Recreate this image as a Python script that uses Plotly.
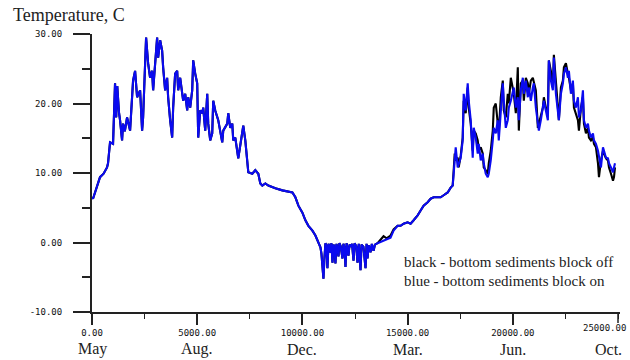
import plotly.graph_objects as go

# ---- data (hours since start, temperature in C) ----
blue_time = [0, 48, 381, 550, 714, 762, 857, 1000, 1048, 1095, 1150, 1200, 1286, 1333, 1429, 1476,
             1560, 1667, 1810, 1952, 2048, 2143, 2286, 2381, 2429, 2524, 2571, 2667, 2762, 2857,
             2905, 3095, 3143, 3238, 3333, 3381, 3476, 3571, 3619, 3714, 3810, 3857, 3952, 4048,
             4095, 4190, 4286, 4333, 4429, 4524, 4571, 4667, 4762, 4810, 4905, 5000, 5048, 5143,
             5238, 5286, 5381, 5476, 5524, 5619, 5714, 5762, 5857, 5952, 6000, 6190, 6238, 6429,
             6476, 6571, 6667, 6714, 6810, 6952, 7048, 7143, 7190, 7286, 7381, 7429, 7619, 7762,
             7905, 8000, 8095, 8238, 8381, 8619, 8714, 9048, 9333, 9524, 9667, 9810, 10000, 10143,
             10286, 10476, 10619, 10762, 10857, 10905, 10952, 11000, 11048, 11095,
             11140, 11190, 11240, 11300, 11340, 11380, 11429, 11480, 11520, 11571, 11620, 11670,
             11714, 11760, 11820, 11905, 11950, 12000, 12048, 12100, 12190, 12240, 12300, 12360,
             12429, 12480, 12560, 12619, 12680, 12762, 12810, 12900, 13000, 13050, 13095, 13150,
             13238, 13300, 13381, 13450, 13571,
             13857, 14190, 14333, 14524, 14667, 14810, 15000, 15143, 15286, 15476, 15619, 15762,
             15952, 16095, 16238, 16571, 16714, 16905, 17048, 17143, 17190, 17238, 17286, 17381,
             17429, 17524, 17619, 17667, 17762, 17857, 17905, 18000, 18095, 18143, 18238, 18333,
             18381, 18476, 18571, 18619, 18714, 18810, 18857, 18952, 19048, 19095, 19190, 19286,
             19333, 19429, 19524, 19571, 19667, 19762, 19810, 19905, 20000, 20048, 20143, 20238,
             20286, 20381, 20476, 20524, 20619, 20714, 20762, 20857, 20952, 21000, 21095, 21190,
             21238, 21333, 21429, 21476, 21571, 21667, 21714, 21810, 21905, 21952, 22048, 22143,
             22190, 22286, 22381, 22429, 22524, 22619, 22667, 22762, 22857, 22905, 23000, 23095,
             23143, 23238, 23333, 23381, 23476, 23571, 23619, 23714, 23810, 23857, 23952, 24048,
             24095, 24190, 24286, 24333, 24429, 24524, 24571, 24667, 24762, 24810, 24857]
blue_temp = [6.5, 6.3, 9.4, 9.9, 10.8, 11.4, 14.4, 14.2, 18.6, 22.9, 18.0, 22.5, 18.6, 17.6, 14.7, 17.1,
             16.0, 18.0, 16.1, 23.3, 24.7, 20.9, 21.9, 16.1, 18.0, 27.6, 29.5, 25.8, 23.7, 24.7,
             21.9, 29.5, 26.6, 29.1, 27.6, 25.2, 21.9, 23.7, 20.9, 17.6, 15.1, 19.4, 24.3, 24.7,
             21.9, 23.7, 20.9, 20.4, 21.4, 19.0, 20.9, 19.4, 21.9, 26.2, 24.3, 22.9, 15.1, 19.0,
             18.6, 19.4, 16.1, 21.4, 17.1, 14.7, 15.7, 20.4, 19.0, 18.0, 17.6, 14.4, 16.1, 17.1,
             18.6, 16.5, 17.1, 14.7, 15.1, 12.1, 14.2, 16.5, 16.8, 14.7, 11.8, 10.1, 9.9, 10.4,
             9.9, 8.5, 8.2, 8.5, 8.2, 7.9, 7.8, 7.5, 7.3, 7.2, 6.5, 5.3, 4.3, 3.2,
             2.4, 1.7, 1.0, 0.0, -0.7, -1.6, -3.6, -5.2, -2.2, -0.1,
             -0.5, -3.7, -0.2, -0.6, -1.5, -0.1, -2.9, -0.3, -0.6, -3.0, -0.2, -0.8,
             -2.0, -0.1, -0.5, -2.3, -0.2, -0.7, -3.5, -0.1, -1.9, -0.3, -0.6, -0.2,
             -2.6, -0.1, -0.5, -2.9, -0.2, -4.0, -0.3, -0.6, -3.7, -0.2, -2.3, -0.4,
             -1.4, -0.2, -1.2, -0.3, -0.1,
             0.3, 0.7, 1.7, 2.4, 2.4, 2.7, 2.9, 2.7, 3.2, 3.9, 4.6, 5.3,
             5.8, 6.3, 6.5, 6.5, 6.8, 7.2, 7.9, 8.2, 9.9, 12.2, 13.7, 10.8,
             11.4, 12.2, 14.7, 21.4, 19.0, 22.9, 20.4, 17.6, 12.2, 16.5, 15.1, 12.8,
             14.2, 11.8, 12.8, 11.4, 9.9, 9.4, 9.9, 11.8, 14.7, 16.5, 15.7, 17.6,
             14.7, 19.4, 22.9, 20.4, 16.5, 17.6, 19.4, 20.4, 21.9, 22.3, 19.4, 20.9,
             17.6, 21.9, 23.7, 21.4, 23.3, 20.9, 22.3, 20.4, 22.3, 22.9, 19.4, 17.6,
             16.1, 17.6, 19.4, 20.4, 19.0, 17.6, 26.2, 23.3, 21.9, 26.6, 21.4, 19.0,
             17.6, 21.4, 22.9, 24.3, 25.2, 23.7, 24.7, 21.4, 23.3, 20.4, 19.4, 20.9,
             18.0, 19.0, 21.9, 17.6, 16.5, 17.1, 16.1, 15.1, 15.7, 14.7, 14.2, 13.2,
             12.2, 10.8, 13.7, 13.2, 12.2, 12.1, 11.4, 10.8, 10.1, 10.8, 11.4]

# black series: identical to blue before spring, then its own values
black_late_time = [13571, 13700, 13857, 14000, 14190, 14333, 14524, 14667, 14810, 15000, 15143, 15286,
                   15476, 15619, 15762, 15952, 16095, 16238, 16571, 16714, 16905, 17048, 17143, 17190,
                   17238, 17286, 17381, 17429, 17524, 17619, 17667, 17762, 17857, 17905, 18000, 18095,
                   18143, 18238, 18333, 18381, 18476, 18571, 18619, 18714, 18810, 18857, 18952, 19048,
                   19095, 19190, 19286, 19333, 19429, 19524, 19571, 19667, 19762, 19810, 19905, 20000,
                   20048, 20143, 20238, 20286, 20381, 20476, 20524, 20619, 20714, 20762, 20857, 20952,
                   21000, 21095, 21190, 21238, 21333, 21429, 21476, 21571, 21667, 21714, 21810, 21905,
                   21952, 22048, 22143, 22190, 22286, 22381, 22429, 22524, 22619, 22667, 22762, 22857,
                   22905, 23000, 23095, 23143, 23238, 23333, 23381, 23476, 23571, 23619, 23714, 23810,
                   23857, 23952, 24048, 24095, 24190, 24286, 24333, 24429, 24524, 24571, 24667, 24762,
                   24810, 24857]
black_late_temp = [-0.1, 0.3, 0.9, 0.6, 1.0, 1.9, 2.4, 2.4, 2.7, 2.9, 2.7, 3.2,
                   3.9, 4.6, 5.3, 5.8, 6.3, 6.5, 6.5, 6.8, 7.2, 7.9, 8.2, 10.4,
                   12.8, 11.8, 12.2, 10.8, 12.5, 15.1, 20.4, 18.6, 22.3, 19.4, 17.1, 13.2,
                   16.1, 15.7, 14.7, 13.2, 13.7, 12.8, 10.8, 10.4, 9.9, 11.4, 13.2, 16.1,
                   19.4, 20.0, 17.1, 15.7, 20.9, 23.3, 19.0, 18.0, 21.4, 20.0, 23.7, 22.3,
                   21.4, 18.6, 25.2, 16.1, 22.9, 23.3, 20.4, 23.7, 22.9, 21.4, 23.3, 23.7,
                   22.9, 21.9, 16.5, 17.1, 18.0, 19.4, 20.9, 19.4, 18.6, 26.2, 24.7, 22.3,
                   27.0, 22.9, 18.6, 17.6, 22.3, 23.3, 25.2, 25.8, 24.3, 23.7, 21.9, 22.9,
                   19.4, 18.6, 17.6, 16.1, 19.4, 20.9, 17.1, 15.7, 16.5, 15.1, 14.7, 15.1,
                   14.2, 13.7, 11.4, 9.4, 11.8, 13.2, 12.8, 12.1, 11.8, 10.8, 9.9, 8.9,
                   9.4, 10.8]

n_shared = blue_time.index(13571)
black_time = blue_time[:n_shared] + black_late_time
black_temp = blue_temp[:n_shared] + black_late_temp

x_ticks = [0, 5000, 10000, 15000, 20000, 25000]
x_tick_labels = ["0.00", "5000.00", "10000.00", "15000.00", "20000.00", "25000.00"]
months = ["May", "Aug.", "Dec.", "Mar.", "Jun.", "Oct."]
month_pos = [0, 5000, 10000, 15000, 20000, 24550]
y_ticks = [-10, 0, 10, 20, 30]
y_tick_labels = ["-10.00", "0.00", "10.00", "20.00", "30.00"]

fig = go.Figure()
fig.add_trace(go.Scatter(x=black_time, y=black_temp, mode="lines",
                         line=dict(color="#000000", width=2.1), showlegend=False))
fig.add_trace(go.Scatter(x=blue_time, y=blue_temp, mode="lines",
                         line=dict(color="#0a0af0", width=2.1), showlegend=False))

tick_font = dict(family="DejaVu Sans Mono", size=9, color="#111")
# the last x tick label sits at the page edge; it is drawn as an annotation below
fig.update_xaxes(range=[0, 25095], showline=True, linecolor="#222", linewidth=2,
                 ticks="outside", ticklen=11, tickwidth=1.5, tickcolor="#222",
                 tickvals=x_ticks[:-1], ticktext=x_tick_labels[:-1], tickfont=tick_font,
                 minor=dict(dtick=2500, tick0=0, ticks="outside", ticklen=5, tickcolor="#222", tickwidth=1),
                 showgrid=False, zeroline=False)
fig.update_yaxes(range=[-10, 30], showline=True, linecolor="#222", linewidth=2,
                 ticks="outside", ticklen=17, tickwidth=2, tickcolor="#222",
                 tickvals=y_ticks, ticktext=y_tick_labels, tickfont=tick_font,
                 ticklabelstandoff=9,
                 minor=dict(dtick=5, tick0=-10, ticks="outside", ticklen=8, tickcolor="#222", tickwidth=1.5),
                 showgrid=False, zeroline=False)

fig.update_layout(
    width=630, height=360,
    margin=dict(l=92, r=10, t=34, b=48),
    paper_bgcolor="white", plot_bgcolor="white",
    showlegend=False,
)
# major tick at 25000 (tick only; label as annotation)
fig.add_shape(type="line", xref="x", yref="paper", x0=x_ticks[-1], x1=x_ticks[-1],
              y0=0, y1=-11/278, line=dict(color="#222", width=1.5))
fig.add_annotation(text=x_tick_labels[-1], xref="paper", yref="paper", x=1 + 8/528, y=-16/278,
                   xanchor="right", yanchor="middle", showarrow=False, font=tick_font)

serif = "Liberation Serif"
fig.add_annotation(text="Temperature, C", xref="paper", yref="paper", x=-81/528, y=1 + 19/278,
                   xanchor="left", yanchor="middle", showarrow=False,
                   font=dict(family=serif, size=18, color="#222"))
fig.add_annotation(text="black - bottom sediments block off", xref="paper", yref="paper",
                   x=310/528, y=(312 - 262) / 278, xanchor="left", yanchor="middle", showarrow=False,
                   font=dict(family=serif, size=15, color="#222"))
fig.add_annotation(text="blue - bottom sediments block on", xref="paper", yref="paper",
                   x=310/528, y=(312 - 281) / 278, xanchor="left", yanchor="middle", showarrow=False,
                   font=dict(family=serif, size=15, color="#222"))
for m, p in zip(months, month_pos):
    fig.add_annotation(text=m, x=p, xref="x", yref="paper", y=-37/278, xanchor="center",
                       yanchor="middle", showarrow=False,
                       font=dict(family=serif, size=16, color="#222"))

fig.write_html("out.html")
